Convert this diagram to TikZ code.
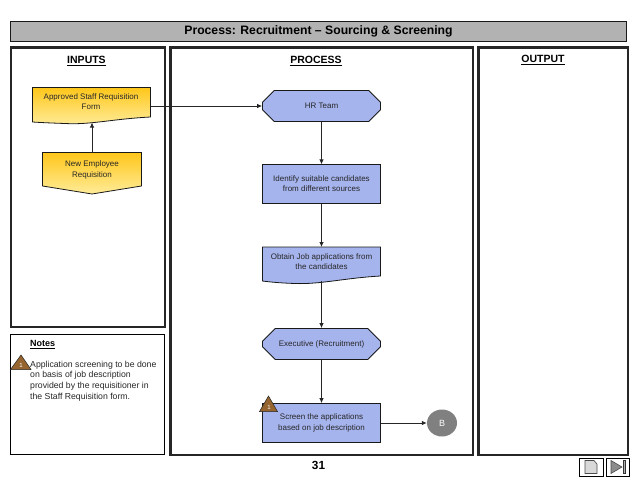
\documentclass[tikz,border=0pt]{standalone}
\usepackage{fontspec}
\setmainfont{Liberation Sans}
\usetikzlibrary{shapes.misc,shapes.geometric,arrows.meta}
\definecolor{stepblue}{HTML}{A6B4EE}
\definecolor{docyellowtop}{HTML}{FFC61A}
\definecolor{docyellowbot}{HTML}{FFEC99}
\definecolor{warnbrown}{HTML}{95642F}
\tikzset{
  panel/.style={draw=black!85, line width=2.2pt},
  heading/.style={font=\bfseries\fontsize{10.5}{12}\selectfont},
  label/.style={font=\fontsize{8}{10.2}\selectfont, align=center, text=black!85},
  stepbox/.style={label, draw=black!90, line width=0.8pt, fill=stepblue, minimum width=118pt, inner sep=0pt},
  teambox/.style={stepbox, chamfered rectangle, chamfered rectangle xsep=9pt, chamfered rectangle ysep=9pt, minimum height=31pt},
  link/.style={line width=0.8pt, draw=black!85, -{Latex[length=5pt,width=4.5pt]}},
  warn/.style={fill=warnbrown, draw=black!85, line width=0.5pt}
}
\begin{document}
\begin{tikzpicture}[x=1pt,y=-1pt]
\useasboundingbox (0,0) rectangle (638,479);

\draw (318.5,31) node[draw=black!90, line width=0.9pt, fill=black!30, minimum width=616pt, minimum height=20pt, inner sep=0pt, font=\bfseries\fontsize{12.2}{14}\selectfont] (title) {Process: Recruitment -- Sourcing \& Screening};

% panels
\draw[panel] (11,47.5) rectangle (165,327);
\draw[panel] (170.5,47.5) rectangle (473,455);
\draw[panel] (478.5,47.5) rectangle (628,455);
\draw[draw=black, line width=0.9pt] (10.5,334.5) rectangle (164.5,454.5);

\draw (86.5,61) node[heading] (inputs) {\underline{INPUTS}};
\draw (316,61) node[heading] (process) {\underline{PROCESS}};
\draw (543,60) node[heading] (output) {\underline{OUTPUT}};

% yellow documents
\draw[draw=black!90, line width=0.8pt, top color=docyellowtop, bottom color=docyellowbot] (32.5,87.5) -- (150.5,87.5) -- (150.5,117) .. controls (112,119) and (90,125) .. (65,123.5) .. controls (50,123) and (40,122.5) .. (32.5,122) -- cycle;
\draw (91,102) node[label] (approved) {Approved Staff Requisition\\Form};
\draw[draw=black!90, line width=0.8pt, top color=docyellowtop, bottom color=docyellowbot] (42.5,152.5) -- (141.5,152.5) -- (141.5,186) -- (92,194) -- (42.5,186) -- cycle;
\draw (92,170) node[label] (newreq) {New Employee\\Requisition};
\coordinate (approvedright) at (150.5,106);
\coordinate (approvedbottom) at (92,122.5);
\coordinate (newreqtop) at (92,152.5);

% blue steps
\draw (321.5,106) node[teambox] (hr) {HR Team};
\draw (321.5,184) node[stepbox, minimum height=38.5pt] (identify) {Identify suitable candidates\\from different sources};
\draw[draw=black!90, line width=0.8pt, fill=stepblue] (262.5,247) -- (380.5,247) -- (380.5,276) .. controls (345,278) and (320,284.5) .. (295,283.5) .. controls (280,283) and (270,282) .. (262.5,281) -- cycle;
\draw (321.5,262) node[label] (obtain) {Obtain Job applications from\\the candidates};
\coordinate (obtaintop) at (321.5,247);
\coordinate (obtainbottom) at (321.5,281);
\draw (321.5,344) node[teambox] (exec) {Executive (Recruitment)};
\draw (321.5,423) node[stepbox, minimum height=39pt] (screen) {Screen the applications\\based on job description};
\draw (442,423) node[ellipse, fill=black!50, minimum width=30pt, minimum height=27pt, inner sep=0pt, text=white, font=\fontsize{9}{10}\selectfont] (bcircle) {B};

\draw[link] (approvedright) -- (hr.west);
\draw[link] (newreqtop) -- (approvedbottom);
\draw[link] (hr.south) -- (identify.north);
\draw[link] (identify.south) -- (obtaintop);
\draw[link] (obtainbottom) -- (exec.north);
\draw[link] (exec.south) -- (screen.north);
\draw[link] (screen.east) -- (bcircle.west);

% warnings
\draw[warn] (10.5,369.5) -- (21,355) -- (31,369.5) -- cycle;
\draw (21,365) node[text=white, font=\fontsize{6}{7}\selectfont, inner sep=0pt] (warnnote) {1};
\draw[warn] (259.5,411.5) -- (268.5,396) -- (277.5,411.5) -- cycle;
\draw (269,407) node[text=white, font=\fontsize{6}{7}\selectfont, inner sep=0pt] (warnstep) {1};

% notes
\draw (30,344.5) node[anchor=west, inner sep=0pt, font=\bfseries\fontsize{9}{10}\selectfont] (notes) {\underline{Notes}};
\draw (30,381) node[anchor=west, inner sep=0pt, align=left, font=\fontsize{8.7}{10.7}\selectfont, text=black!85] (notetext) {Application screening to be done\\on basis of job description\\provided by the requisitioner in\\the Staff Requisition form.};

\draw (318.5,465) node[font=\bfseries\fontsize{11.8}{14}\selectfont] (page) {31};

% page buttons
\draw (591,467) node[draw=black, line width=0.7pt, minimum width=24pt, minimum height=18pt, inner sep=0pt] (docbtn) {};
\draw (617.5,467) node[draw=black, line width=0.7pt, minimum width=23pt, minimum height=18pt, inner sep=0pt] (nextbtn) {};
\draw[fill=black!15, draw=black!70, line width=0.6pt] (585,460.5) -- (594,460.5) -- (597,464) -- (597,473.5) -- (585,473.5) -- cycle;
\draw[fill=black!45, draw=black!70, line width=0.6pt] (611,460.5) -- (622,467) -- (611,473.5) -- cycle;
\draw[fill=black!30, draw=black!80, line width=0.6pt] (623.5,460.5) rectangle (625.5,473.5);

\end{tikzpicture}
\end{document}
